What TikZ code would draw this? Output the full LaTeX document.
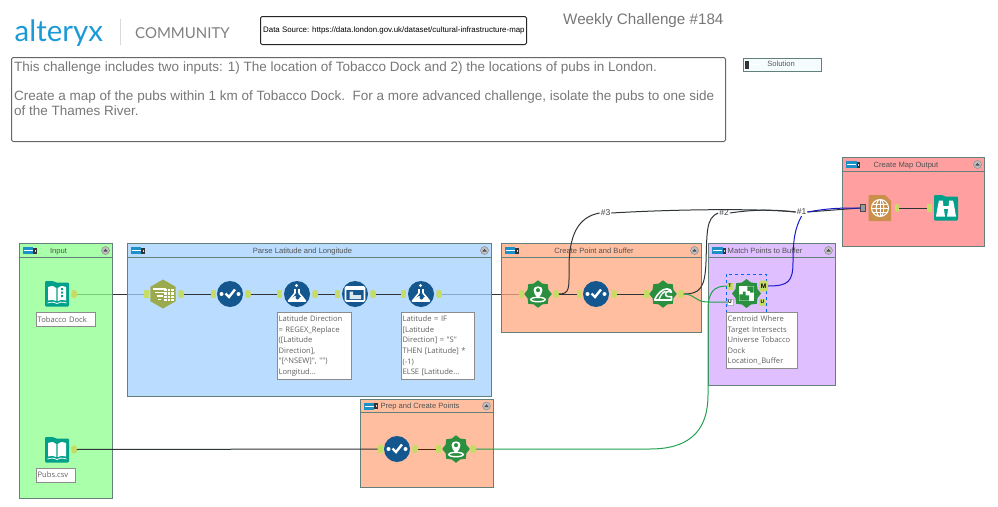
\documentclass[tikz,border=0pt]{standalone}
\usepackage{fontspec}
\setmainfont{Liberation Sans}
\newfontfamily\logofont{Lato}
\newfontfamily\toolfont{Open Sans}
\usetikzlibrary{shapes.geometric,shapes.misc,calc}
\definecolor{portlime}{HTML}{C6DC66}
\definecolor{selblue}{HTML}{14578F}
\definecolor{spatgreen}{HTML}{2A8F3E}
\definecolor{bookteal}{HTML}{00A08A}
\definecolor{hexolive}{HTML}{9BAA4C}
\definecolor{reporttan}{HTML}{C98F4B}
\definecolor{edgegrey}{HTML}{64807A}
\definecolor{wiredark}{HTML}{2F3438}
\definecolor{wiregreen}{HTML}{22A050}
\definecolor{wireblue}{HTML}{1A1ACC}
\definecolor{textgrey}{HTML}{777777}
\definecolor{logoblue}{HTML}{1C9AD6}
\definecolor{barblue}{HTML}{1E90C8}
\definecolor{groupgreen}{HTML}{8EFF8E}
\definecolor{groupblue}{HTML}{A2D0FF}
\definecolor{grouporange}{HTML}{FFA87F}
\definecolor{grouppurple}{HTML}{D4AAFF}
\definecolor{groupred}{HTML}{FF7F7F}
\tikzset{
  groupbox/.style={draw=edgegrey,line width=.9pt,fill opacity=.75,anchor=north west,inner sep=0,outer sep=0},
  grouptitle/.style={font=\fontsize{7.6}{10}\selectfont,text=black!68,inner sep=0},
  inport/.style={fill=portlime,minimum width=5pt,minimum height=7.5pt,inner sep=0,outer sep=0},
  outport/.style={fill=portlime,rounded corners=2.2pt,minimum width=5.5pt,minimum height=8pt,inner sep=0,outer sep=0},
  circletool/.style={circle,fill=selblue,minimum size=26pt,inner sep=0},
  startool/.style={star,star points=8,star point ratio=1.22,fill=spatgreen,minimum size=27.5pt,inner sep=0},
  squaretool/.style={minimum size=24pt,inner sep=0},
  notebox/.style={draw=black!45,fill=white,line width=.8pt,anchor=north west,align=left,inner xsep=1.2pt,inner ysep=1.2pt,
    font=\toolfont\fontsize{7.6}{10.55}\selectfont,text=black!62},
  wire/.style={wiredark,line width=1pt},
  softwire/.style={wiredark,line width=.8pt},
  greenwire/.style={wiregreen,line width=1pt},
  bluewire/.style={wireblue,line width=1pt},
  wirelabel/.style={fill=white,inner sep=1pt,font=\fontsize{8.5}{10}\selectfont,text=black!75},
  framebox/.style={rounded corners=1.5pt,line width=1pt,anchor=north west,inner sep=0},
  % toggle bar shown in each container header
  pics/headbar/.style={code={
    \fill[fill=black!80] (10,-3) rectangle (14,3);
    \fill[fill=black!15] (12,-1) rectangle (13,1);
    \fill[fill=barblue] (0,-3.5) rectangle (10.5,3.5);
    \draw[white,line width=.5pt] (1,0) -- (10,0);
  }},
  pics/foldbtn/.style={code={
    \fill[black!25] (0,0) circle (4);
    \draw[black!45,line width=.5pt] (0,0) circle (4);
    \fill[black!70] (-2.2,1) -- (2.2,1) -- (0,-1.6) -- cycle;
  }},
  pics/folder/.style={code={
    \fill[bookteal,rounded corners=1.2pt] (-12,-13) -- (-3.5,-13) -- (-1.5,-11.5) -- (12,-11.5) -- (12,12.5) -- (-12,12.5) -- cycle;
  }},
  pics/selectmark/.style={code={
    \fill[white] (-8.5,0) circle (2) (8.5,0) circle (2);
    \draw[white,line width=2.4pt] (-4.5,-.5) -- (-1,3) -- (5,-4.5);
  }},
  pics/flask/.style={code={
    \draw[white,line width=1.6pt,line join=round] (-2,-5) -- (-2,-1) -- (-8.5,7) -- (8.5,7) -- (2,-1) -- (2,-5);
    \fill[white] (-6,4.5) -- (-2,2) -- (2,3.5) -- (6,2.5) -- (8,7) -- (-8,7) -- cycle;
    \fill[white] (-.5,-8.5) circle (1.6);
    \fill[selblue] (.5,3.5) circle (2);
  }},
  pics/screen/.style={code={
    \draw[white,line width=1.6pt,rounded corners=1pt] (-9.5,-7) rectangle (9.5,7);
    \fill[white] (-9.5,-7) rectangle (9.5,-4.5);
    \fill[white!85!selblue] (-5.5,-2.5) rectangle (-2,5) (-2,1) rectangle (6,5);
  }},
  pics/pin/.style={code={
    \fill[white] (0,-9) .. controls (-7,-9) and (-7,-2) .. (0,5) .. controls (7,-2) and (7,-9) .. (0,-9) -- cycle;
    \fill[spatgreen] (0,-4.5) circle (2.4);
    \draw[white,line width=1.4pt] (0,6.5) ellipse (8.5 and 2.6);
  }},
  pics/wave/.style={code={
    \draw[white,line width=1.6pt,line join=round] (-10,7) .. controls (-6,-1) and (-1,-6) .. (5,-6) .. controls (8,-6) and (10,-4) .. (10,-2) .. controls (7,-4) and (3,-3) .. (3,0) .. controls (3,3) and (7,4) .. (10,3) -- (10,7) -- cycle;
    \draw[white,line width=1.3pt] (-5,7) .. controls (-3,2) and (-1,-2) .. (3,-3);
  }},
  pics/puzzle/.style={code={
    \fill[white] (-8,-8) rectangle (8,8);
    \fill[spatgreen] (-8,8) -- (-8,1) -- (-4,1) -- (-4,-2) -- (-1,-2) -- (-1,2) -- (3,2) -- (3,8) -- cycle;
    \fill[spatgreen] (1,-8) -- (1,-3) -- (4,-3) -- (4,-1) -- (8,-1) -- (8,-8) -- cycle;
  }},
  pics/columns/.style={code={
    \foreach \rowy/\half in {-5/7,-1.5/5,2/3.5,5.5/2}
      \draw[white,line width=1.3pt] (-10,\rowy) ++(7-\half,0) -- ++(2*\half-1,0);
    \fill[white] (1,-5.5) rectangle (11,7);
    \foreach \gx in {4.3,7.6} \draw[hexolive,line width=.8pt] (\gx,-5.5) -- (\gx,7);
    \foreach \gy in {-2.5,1,4} \draw[hexolive,line width=.8pt] (1,\gy) -- (11,\gy);
  }},
  pics/bookmark/.style={code={
    \fill[white] (-9,-7) .. controls (-5,-8.5) and (-2,-8) .. (-.7,-6) -- (-.7,7) .. controls (-3,5.5) and (-6,5.5) .. (-9,6.5) -- cycle;
    \fill[white] (9,-7) .. controls (5,-8.5) and (2,-8) .. (.7,-6) -- (.7,7) .. controls (3,5.5) and (6,5.5) .. (9,6.5) -- cycle;
    \draw[white,line width=.8pt] (-9.5,9) .. controls (-5,7.5) and (-2,8) .. (0,9.5) .. controls (2,8) and (5,7.5) .. (9.5,9);
  }},
  pics/bookdots/.style={code={
    \fill[bookteal] (4,-6) rectangle (6,-4) (4,-2.5) rectangle (6,-.5) (4,1) rectangle (6,3);
  }},
  pics/binoculars/.style={code={
    \fill[white] (-10,8.5) -- (-8,-3) -- (-7,-7.5) -- (-3.2,-7.5) -- (-2.6,-2) -- (-1,8.5) -- cycle;
    \fill[white] (10,8.5) -- (8,-3) -- (7,-7.5) -- (3.2,-7.5) -- (2.6,-2) -- (1,8.5) -- cycle;
    \fill[white] (-2.6,-2) rectangle (2.6,1);
  }},
  pics/globe/.style={code={
    \draw[white,line width=1pt] (0,0) circle (8.5) (0,0) ellipse (3.8 and 8.5);
    \draw[white,line width=1pt] (0,-8.5) -- (0,8.5) (-8.5,0) -- (8.5,0) (-7.5,-4) -- (7.5,-4) (-7.5,4) -- (7.5,4);
  }},
}
% container: name, left, top, right, bottom, fill, title x, title y, title
\newcommand{\groupframe}[9]{%
  \node[groupbox,fill=#6,minimum width={(#4-#2)*1pt},minimum height={(#5-#3)*1pt}] (#1) at (#2,#3) {};
  \draw[edgegrey,line width=.8pt] (#2,#3+13.5) -- (#4,#3+13.5);
  \pic at (#2+3.5,#3+7) {headbar};
  \pic at (#4-6.5,#3+7) {foldbtn};
  \node[grouptitle] (#1title) at (#7,#8+1.5) {#9};
}
\begin{document}
\begin{tikzpicture}[x=1pt,y=-1pt]
\useasboundingbox (0,0) rectangle (998,506);

% connectors that run beneath the translucent containers
\coordinate (tobaccoout) at (76.5,294);
\coordinate (hexin) at (143.5,294);
\coordinate (formulaout) at (441.5,294);
\coordinate (pointin) at (518.5,294);
\draw[softwire] (tobaccoout) -- (hexin);
\draw[softwire] (formulaout) -- (pointin);

% containers
\groupframe{inputgroup}{19}{243.5}{112}{498}{groupgreen}{58.5}{250}{Input}
\groupframe{parsegroup}{127}{243.5}{491}{396}{groupblue}{302.5}{250}{Parse Latitude and Longitude}
\groupframe{buffergroup}{501}{243.5}{701}{332}{grouporange}{594}{249.5}{Create Point and Buffer}
\groupframe{matchgroup}{708.5}{243.5}{835}{385}{grouppurple}{765}{249.5}{Match Points to Buffer}
\groupframe{mapgroup}{842.5}{157.5}{984}{246}{groupred}{906}{164}{Create Map Output}
\groupframe{prepgroup}{360}{399}{493}{487}{grouporange}{420}{405}{Prep and Create Points}

% heading
\node[anchor=base west,inner sep=0,text=logoblue] (logo) at (14.5,41) {\logofont\fontsize{29.5}{34}\selectfont alteryx};
\draw[black!15,line width=1pt] (120.5,19) -- (120.5,45);
\node[anchor=base west,inner sep=0,text=black!50] (community) at (135,38.5) {\logofont\fontsize{15}{20}\selectfont COMMUNITY};
\node[framebox,draw=black!85,minimum width=266pt,minimum height=28pt] (sourcebox) at (260,16) {};
\node[anchor=west,inner sep=0,text=black] (sourcetext) at (263,30) {\fontsize{7.9}{10}\selectfont Data Source: https://data.london.gov.uk/dataset/cultural-infrastructure-map};
\node[anchor=west,inner sep=0,text=textgrey] (weekly) at (563,21) {\fontsize{15.2}{19}\selectfont Weekly Challenge \#184};
\node[framebox,draw=black!60,minimum width=714pt,minimum height=84pt] (briefbox) at (11,57) {};
\node[anchor=north west,inner sep=0,align=left,text=textgrey,font=\fontsize{13.5}{14.6}\selectfont] (brieftext) at (14,61.5) {This challenge includes two inputs: 1) The location of Tobacco Dock and 2) the locations of pubs in London.\\[14.6pt]Create a map of the pubs within 1 km of Tobacco Dock.\ \ For a more advanced challenge, isolate the pubs to one side\\of the Thames River.};
\node[anchor=north west,draw=edgegrey,fill=black!3!cyan!4,line width=.9pt,minimum width=78pt,minimum height=13pt,inner sep=0] (solutionbox) at (743,58) {};
\fill[black!80] (745,60.5) rectangle (748.5,68.5);
\draw[white,line width=.8pt] (749,64.5) -- (760,64.5);
\node[inner sep=0,text=black!65,font=\fontsize{7.6}{9}\selectfont] (solutiontext) at (781,64) {Solution};

% tools
\node[squaretool] (tobacco) at (57,294) {};
\pic at (tobacco) {folder};
\pic at (tobacco) {bookmark}; \pic at (tobacco) {bookdots};
\node[outport] (tobaccoport) at (74,294) {};
\node[notebox,text width=56.6pt,minimum height=14pt,inner ysep=0] (tobaccolabel) at (36,312) {Tobacco Dock};

\node[squaretool] (pubs) at (57,450) {};
\pic at (pubs) {folder};
\pic at (pubs) {bookmark};
\node[outport] (pubsport) at (74,449.5) {};
\node[notebox,text width=36.6pt,minimum height=14pt,inner ysep=0] (pubslabel) at (36,467.5) {Pubs.csv};

\node[regular polygon,regular polygon sides=6,shape border rotate=30,fill=hexolive,minimum size=29pt,inner sep=0] (hex) at (163,294) {};
\pic at (hex) {columns};
\node[inport] (hexport) at (146,294) {};
\node[outport] (hexout) at (181,294) {};

\node[circletool] (selectone) at (230,294) {};
\pic at (selectone) {selectmark};
\node[inport] (selectonein) at (213,294) {};
\node[outport] (selectoneout) at (248,294) {};

\node[circletool] (formulaone) at (297,294) {};
\pic at (formulaone) {flask};
\node[inport] (formulaonein) at (279,294) {};
\node[outport] (formulaoneout) at (315,294) {};
\node[notebox,text width=71.6pt,minimum height=67pt] (noteone) at (277,312) {Latitude Direction\\= REGEX\_Replace\\{}([Latitude\\Direction],\\"[\textasciicircum NSEW]", "")\\Longitud...};

\node[circletool] (screen) at (355,294) {};
\pic at (screen) {screen};
\node[inport] (screenin) at (337,294) {};
\node[outport] (screenout) at (373,294) {};

\node[circletool] (formulatwo) at (421,294) {};
\pic at (formulatwo) {flask};
\node[inport] (formulatwoin) at (403,294) {};
\node[outport] (formulatwoout) at (439,294) {};
\node[notebox,text width=70.6pt,minimum height=67pt] (notetwo) at (401,312) {Latitude = IF\\{}[Latitude\\Direction] = "S"\\THEN [Latitude] *\\(-1)\\ELSE [Latitude...};

\node[startool] (pointa) at (538,294) {};
\pic[scale=.85] at (pointa) {pin};
\node[inport] (pointain) at (521,294) {};
\node[outport] (pointaout) at (556,294) {};

\node[circletool] (selecttwo) at (596,294) {};
\pic at (selecttwo) {selectmark};
\node[inport] (selecttwoin) at (579,294) {};
\node[outport] (selecttwoout) at (614,294) {};

\node[startool] (buffer) at (663,294) {};
\pic[scale=.85] at (buffer) {wave};
\node[inport] (bufferin) at (646,294) {};
\node[outport] (bufferout) at (681,294) {};

\node[circletool] (selectthree) at (397,449) {};
\pic at (selectthree) {selectmark};
\node[inport] (selectthreein) at (380,449) {};
\node[outport] (selectthreeout) at (415,449) {};

\node[startool] (pointb) at (456,449) {};
\pic[scale=.85] at (pointb) {pin};
\node[inport] (pointbin) at (438,449) {};
\node[outport] (pointbout) at (473,449) {};

\node[draw=blue!60!cyan,dashed,line width=.7pt,minimum width=40pt,minimum height=40pt,inner sep=0,anchor=north west] (selection) at (726,274) {};
\node[startool,minimum size=29pt] (match) at (746.5,293.5) {};
\pic[scale=.9] at (match) {puzzle};
\node[inport,minimum width=6.5pt,minimum height=7pt,font=\fontsize{5}{5}\bfseries\selectfont] (matcht) at (730,286) {T};
\node[inport,fill=white,draw=black!30,line width=.4pt,minimum width=6pt,minimum height=6.5pt,font=\fontsize{5}{5}\bfseries\selectfont] (matchu) at (730,302) {U};
\node[outport,minimum width=9pt,minimum height=11pt,font=\fontsize{6.5}{6.5}\bfseries\selectfont] (matchm) at (763.5,286) {M};
\node[inport,minimum width=6.5pt,minimum height=7pt,font=\fontsize{5}{5}\bfseries\selectfont] (matchout) at (762.5,302) {U};
\node[notebox,text width=69pt,minimum height=56pt] (matchnote) at (726,312) {Centroid Where\\Target Intersects\\Universe Tobacco\\Dock\\Location\_Buffer};

\path[fill=reporttan] (868.5,195) -- (885,195) -- (891,201) -- (891,221) -- (868.5,221) -- cycle;
\node[inner sep=0,minimum size=17pt] (map) at (880,208) {};
\pic at (map) {globe};
\node[inport,fill=black!40,draw=black!70,line width=.4pt,minimum width=4.5pt,minimum height=7pt] (mapin) at (862.5,208) {};
\node[outport,minimum width=4.5pt] (mapout) at (897,208) {};

\node[squaretool] (browse) at (946,208) {};
\pic at (browse) {folder};
\pic at (browse) {binoculars};
\node[inport,minimum width=5pt] (browsein) at (929,208) {};

% wire labels
\node[wirelabel] (hashthree) at (605.5,213) {\#3};
\node[wirelabel] (hashtwo) at (724,213) {\#2};
\node[wirelabel] (hashone) at (801.5,212) {\#1};

% connectors within and between containers
\draw[wire] (hexout) -- (selectonein);
\draw[wire] (selectoneout) -- (formulaonein);
\draw[wire] (formulaoneout) -- (screenin);
\draw[wire] (screenout) -- (formulatwoin);
\draw[wire] (pointaout) -- (selecttwoin);
\draw[wire] (selecttwoout) -- (bufferin);
\draw[wire] (pubsport) -- (selectthreein);
\draw[wire,black!50!orange!60!black] (selectthreeout) -- (pointbin);
\draw[wire] (mapout) -- (browsein);
\draw[wire] (pointaout.east) .. controls (570,294) and (569,288) .. (569,268) .. controls (569,235) and (578,217) .. (hashthree.west);
\draw[wire] (bufferout.east) .. controls (700,294) and (705,288) .. (706,262) .. controls (707,232) and (706,218) .. (hashtwo.west);
\draw[wire] (hashthree.east) .. controls (680,209) and (760,208.5) .. (hashone.west);
\draw[wire] (hashtwo.east) .. controls (750,210) and (770,209) .. (hashone.west);
\draw[greenwire] (bufferout.east) .. controls (695,294) and (695,302) .. (708,302) -- (matchu.west);
\draw[greenwire] (pointbout.east) -- (650,449) .. controls (695,449) and (708,425) .. (708,395) -- (708,310) .. controls (708,292) and (714,286) .. (matcht.west);
\draw[bluewire] (matchm.east) .. controls (788,286) and (793,282) .. (793,262) .. controls (793,240) and (795,228) .. (hashone.south);
\draw[wire] (hashone.east) -- (mapin.west);
\draw[bluewire] (hashone.east) .. controls (830,208) and (840,208) .. (mapin.west);
\end{tikzpicture}
\end{document}
